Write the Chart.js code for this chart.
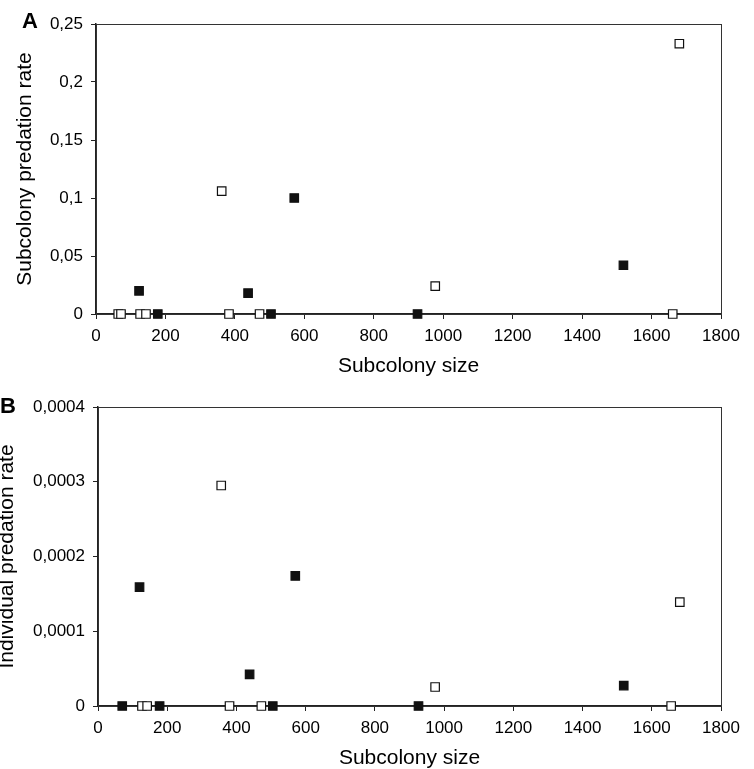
<!DOCTYPE html>
<html>
<head>
<meta charset="utf-8">
<script src="https://cdn.jsdelivr.net/npm/chart.js@4"></script>
<style>
  body { margin: 0; background: #fff; }
  .wrap { position: absolute; left: 0; width: 754px; }
  canvas { position: absolute; left: 0; top: 0; }
  .tag { position: absolute; font: bold 22px "Liberation Sans", Arial, sans-serif; color: #000; }
</style>
</head>
<body>
<div class="wrap" style="top:0;height:380px">
  <canvas id="chartA" width="754" height="380"></canvas>
  <div class="tag" style="left:22px;top:8px">A</div>
</div>
<div class="wrap" style="top:380px;height:389px">
  <canvas id="chartB" width="754" height="389"></canvas>
  <div class="tag" style="left:0px;top:13px">B</div>
</div>
<script>
// panel A: subcolony predation rate
const sizeAFilled = [124, 178, 438, 504, 571, 926, 1519];
const rateAFilled = [0.02, 0, 0.018, 0, 0.1, 0, 0.042];
const sizeAOpen = [64, 72, 127, 144, 362, 383, 471, 977, 1661, 1680];
const rateAOpen = [0, 0, 0, 0, 0.106, 0, 0, 0.024, 0, 0.233];
const yTicksA = ["0", "0,05", "0,1", "0,15", "0,2", "0,25"];

// panel B: individual predation rate
const sizeBFilled = [70, 120, 178, 438, 505, 570, 926, 1519];
const rateBFilled = [0, 0.000159, 0, 0.0000424, 0, 0.000174, 0, 0.0000273];
const sizeBOpen = [127, 142, 356, 380, 472, 974, 1656, 1681];
const rateBOpen = [0, 0, 0.000295, 0, 0, 0.0000254, 0, 0.000139];
const yTicksB = ["0", "0,0001", "0,0002", "0,0003", "0,0004"];

const xTicks = ["0", "200", "400", "600", "800", "1000", "1200", "1400", "1600", "1800"];

const FONT = "'Liberation Sans', Arial, sans-serif";

const toPoints = (xs, ys) => xs.map((x, i) => ({ x: x, y: ys[i] }));

// frame around the plot area, drawn under the markers
const boxPlugin = {
    id: "box",
    beforeDatasetsDraw(chart) {
        const { ctx, chartArea: a } = chart;
        ctx.save();
        ctx.strokeStyle = "#333";
        ctx.lineWidth = 1;
        ctx.strokeRect(Math.round(a.left) + 0.5, Math.round(a.top) + 0.5, Math.round(a.right - a.left), Math.round(a.bottom - a.top));
        ctx.restore();
    }
};

function makeChart(id, cfg) {
    const marker = {
        pointStyle: "rect",
        pointRadius: 6,
        pointBorderWidth: 1.2,
        pointBorderColor: "#111",
        showLine: false,
        clip: false,
    };
    return new Chart(document.getElementById(id), {
        type: "scatter",
        data: {
            datasets: [
                { ...marker, data: toPoints(cfg.xFilled, cfg.yFilled), pointBackgroundColor: "#111" },
                { ...marker, data: toPoints(cfg.xOpen, cfg.yOpen), pointBackgroundColor: "#fff" },
            ],
        },
        options: {
            responsive: false,
            animation: false,
            layout: { padding: { top: cfg.top, right: 33, left: 0, bottom: 0 } },
            plugins: { legend: { display: false }, tooltip: { enabled: false } },
            scales: {
                x: {
                    type: "linear",
                    min: 0,
                    max: 1800,
                    afterFit: (s) => { s.height = cfg.xHeight; },
                    border: { display: true, color: "#222", width: 1.5 },
                    grid: { drawOnChartArea: false, drawTicks: true, tickLength: 5, color: "#222" },
                    ticks: {
                        stepSize: 200,
                        padding: 7,
                        color: "#000",
                        font: { family: FONT, size: 17 },
                        maxRotation: 0,
                        callback: (v, i) => xTicks[i],
                    },
                    title: {
                        display: true,
                        text: "Subcolony size",
                        color: "#000",
                        font: { family: FONT, size: 21, lineHeight: 1 },
                        padding: { top: 0, bottom: cfg.xTitlePad },
                    },
                },
                y: {
                    min: 0,
                    max: cfg.yMax,
                    afterFit: (s) => { s.width = cfg.yWidth; },
                    border: { display: true, color: "#222", width: 1.5 },
                    grid: { drawOnChartArea: false, drawTicks: true, tickLength: 5, color: "#222" },
                    ticks: {
                        stepSize: cfg.yStep,
                        padding: 8,
                        color: "#000",
                        font: { family: FONT, size: 17 },
                        callback: (v, i) => cfg.yLabels[i],
                    },
                    title: {
                        display: true,
                        text: cfg.yTitle,
                        color: "#000",
                        font: { family: FONT, size: 21, lineHeight: cfg.yTitleLh },
                        padding: { top: cfg.yTitlePad, bottom: 0 },
                    },
                },
            },
        },
        plugins: [boxPlugin],
    });
}

makeChart("chartA", {
    xFilled: sizeAFilled, yFilled: rateAFilled,
    xOpen: sizeAOpen, yOpen: rateAOpen,
    yMax: 0.25, yStep: 0.05, yLabels: yTicksA,
    yTitle: "Subcolony predation rate",
    top: 24, xHeight: 66, yWidth: 96,
    xTitlePad: 3, yTitlePad: 15, yTitleLh: 1,
});

makeChart("chartB", {
    xFilled: sizeBFilled, yFilled: rateBFilled,
    xOpen: sizeBOpen, yOpen: rateBOpen,
    yMax: 0.0004, yStep: 0.0001, yLabels: yTicksB,
    yTitle: "Individual predation rate",
    top: 27, xHeight: 63, yWidth: 98,
    xTitlePad: 0, yTitlePad: 0, yTitleLh: 0.7,
});
</script>
</body>
</html>
